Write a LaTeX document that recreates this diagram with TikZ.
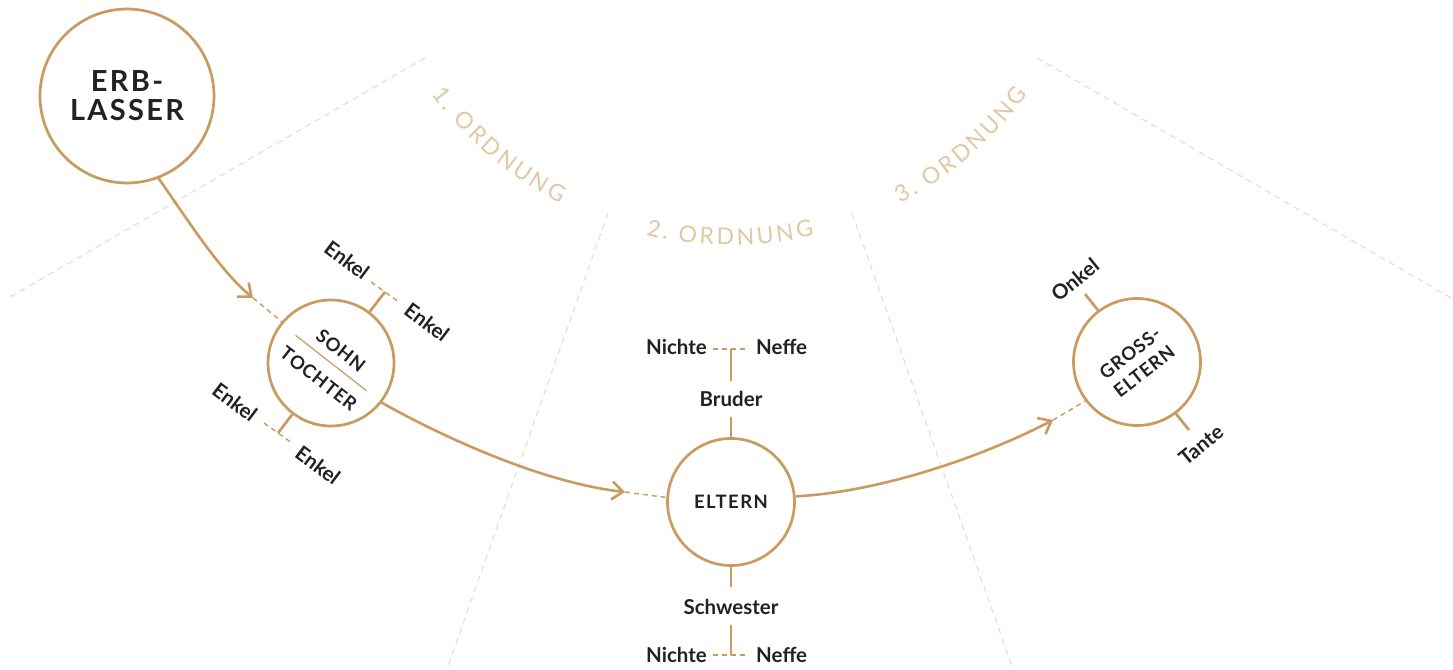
\documentclass[tikz,border=0pt]{standalone}
\usepackage{fontspec}
\setmainfont{Lato}
\newfontfamily\ordfont{Lato}
\newfontfamily\capsfont[LetterSpace=8]{Lato}
\newfontfamily\capsfontb[LetterSpace=5]{Lato}
\usetikzlibrary{arrows.meta,decorations.text}
\definecolor{gold}{HTML}{C99B5F}
\definecolor{sector}{HTML}{E9D8BF}
\definecolor{ordc}{HTML}{E2C8A2}
\definecolor{ink}{HTML}{222222}
\begin{document}
\begin{tikzpicture}[x=1pt,y=-1pt,
  person/.style={circle, draw=gold, line width=2.7pt, fill=white, inner sep=0pt, text=ink},
  innertext/.style={text=ink, inner sep=0pt, align=center, font=\capsfontb\bfseries\fontsize{18.5}{23}\selectfont},
  lbl/.style={text=ink, inner sep=0pt, font=\bfseries\fontsize{20.5}{24}\selectfont},
  spoke/.style={draw=gold, line width=2.7pt},
  link/.style={draw=gold, line width=1.4pt, dash pattern=on 5pt off 4pt},
  sectorline/.style={draw=sector, line width=1pt, dash pattern=on 6pt off 5pt},
  flow/.style={draw=gold, line width=2.6pt, -{Straight Barb[length=11pt,width=18pt]}},
  ordlabel/.style={decorate, decoration={text along path, text align=center, text={|\ordfont\fontsize{23}{23}\selectfont\color{ordc}|#1}}}
]
\useasboundingbox (0,0) rectangle (1453,669);

% sector boundaries
\coordinate (s1a) at (10,297);   \coordinate (s1b) at (425,58);
\coordinate (s2a) at (608,213);  \coordinate (s2b) at (447,669);
\coordinate (s3a) at (852,213);  \coordinate (s3b) at (1013,669);
\coordinate (s4a) at (1037,58);  \coordinate (s4b) at (1453,299);
\draw[sectorline] (s1a) -- (s1b);
\draw[sectorline] (s2a) -- (s2b);
\draw[sectorline] (s3a) -- (s3b);
\draw[sectorline] (s4a) -- (s4b);

% Ordnung labels along arcs (letter-spaced)
\path[ordlabel={{1\kern3pt}{.\kern3pt}{\ \kern2pt}{O\kern3pt}{R\kern3pt}{D\kern3pt}{N\kern3pt}{U\kern3pt}{N\kern3pt}{G}}] ([shift={(155.5:370)}]730,-125) arc[start angle=155.5, end angle=105.5, radius=370];
\path[ordlabel={{2\kern3pt}{.\kern3pt}{\ \kern2pt}{O\kern3pt}{R\kern3pt}{D\kern3pt}{N\kern3pt}{U\kern3pt}{N\kern3pt}{G}}] ([shift={(115:370)}]730,-125) arc[start angle=115, end angle=65, radius=370];
\path[ordlabel={{3\kern3pt}{.\kern3pt}{\ \kern2pt}{O\kern3pt}{R\kern3pt}{D\kern3pt}{N\kern3pt}{U\kern3pt}{N\kern3pt}{G}}] ([shift={(74.5:370)}]730,-125) arc[start angle=74.5, end angle=24.5, radius=370];

% persons
\node[person, minimum size=174pt, align=center, font=\capsfont\bfseries\fontsize{29}{29}\selectfont] (erb) at (127,96) {ERB-\\LASSER};
\node[person, minimum size=126pt] (sohn) at (331,363) {};
\node[person, minimum size=127pt, font=\capsfont\bfseries\fontsize{18.5}{23}\selectfont] (eltern) at (731,502) {ELTERN};
\node[person, minimum size=127pt] (gross) at (1137,362) {};

% Sohn / Tochter text
\begin{scope}[shift={(331,363)}, rotate=-38]
  \node[innertext, transform shape] (sohnt) at (0,-16) {SOHN};
  \node[innertext, transform shape] (tochtert) at (0,20) {TOCHTER};
  \coordinate (sep1) at (-45,0);
  \coordinate (sep2) at (45,0);
  \draw[gold, line width=1.2pt] (sep1) -- (sep2);
\end{scope}

% Grosseltern text
\node[innertext, rotate=38] (grosst) at (1137,362) {GROSS-\\ELTERN};

% flow arrows
\coordinate (t1) at (253,298);
\coordinate (t2) at (625,492);
\coordinate (t3) at (1053,420);
\draw[flow] (erb.-69) .. controls (184,214) and (218,269) .. (t1);
\draw[link] (t1) -- (sohn.140);
\draw[flow] (sohn.-38) .. controls (430,430) and (536,482) .. (t2);
\draw[link] (t2) -- (eltern.176);
\draw[flow] (eltern.5) .. controls (880,492) and (982,457) .. (t3);
\draw[link] (t3) -- (gross.217);

% Sohn spokes
\coordinate (e1) at (385,292);
\coordinate (e2) at (278,433);
\draw[spoke] (sohn.53) -- (e1);
\draw[spoke] (sohn.233) -- (e2);
\coordinate (j1a) at (371,282); \coordinate (j1b) at (399,302);
\coordinate (j2a) at (264,423); \coordinate (j2b) at (292,443);
\draw[link] (j1a) -- (j1b);
\draw[link] (j2a) -- (j2b);
\node[lbl, rotate=-37] (enk1) at (347,260) {Enkel};
\node[lbl, rotate=-37] (enk2) at (427,322) {Enkel};
\node[lbl, rotate=-37] (enk3) at (235,402) {Enkel};
\node[lbl, rotate=-37] (enk4) at (318,465) {Enkel};

% Eltern spokes
\coordinate (u1) at (731,417);
\coordinate (u2) at (731,381);
\coordinate (u3) at (731,349);
\coordinate (b1) at (731,587);
\coordinate (b2) at (731,625);
\coordinate (b3) at (731,655);
\draw[spoke] (eltern.north) -- (u1);
\draw[spoke] (u2) -- (u3);
\draw[spoke] (eltern.south) -- (b1);
\draw[spoke] (b2) -- (b3);
\coordinate (ua) at (713,349); \coordinate (ub) at (749,349);
\coordinate (ba) at (713,655); \coordinate (bb) at (749,655);
\draw[link] (ua) -- (ub);
\draw[link] (ba) -- (bb);
\node[lbl] (bruder) at (731,398.5) {Bruder};
\node[lbl] (schwester) at (731,607) {Schwester};
\node[lbl, anchor=east] (nichte1) at (707,347) {Nichte};
\node[lbl, anchor=west] (neffe1) at (756,347) {Neffe};
\node[lbl, anchor=east] (nichte2) at (707,655) {Nichte};
\node[lbl, anchor=west] (neffe2) at (756,655) {Neffe};

% Grosseltern spokes
\coordinate (o1) at (1085,294);
\coordinate (o2) at (1189,430);
\draw[spoke] (gross.127) -- (o1);
\draw[spoke] (gross.-53) -- (o2);
\node[lbl, rotate=39] (onkel) at (1075,280) {Onkel};
\node[lbl, rotate=39] (tante) at (1201,445) {Tante};
\end{tikzpicture}
\end{document}
